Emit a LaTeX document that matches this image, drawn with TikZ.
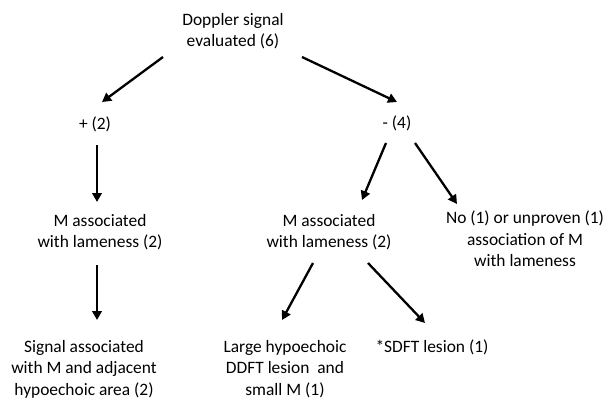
\documentclass[tikz,border=0pt]{standalone}
\usepackage{fontspec}
\setmainfont{Carlito}
\usetikzlibrary{arrows.meta}

\begin{document}
\begin{tikzpicture}[
    x=1pt, y=-1pt,
    lbl/.style={inner sep=0pt, align=center, font=\fontsize{17.4}{21.6}\selectfont},
    arr/.style={line width=2.3pt, -{Triangle[length=9pt,width=9.5pt]}}
  ]
  \useasboundingbox[fill=white] (0,0) rectangle (613,400);

  \node[lbl] (doppler) at (233,31) {Doppler signal\\evaluated (6)};
  \node[lbl] (pos) at (95,124) {+ (2)};
  \node[lbl] (neg) at (397,123) {- (4)};
  \node[lbl] (posM) at (100,232) {M associated\\with lameness (2)};
  \node[lbl] (negM) at (329,232) {M associated\\with lameness (2)};
  \node[lbl] (noM) at (525,239) {No (1) or unproven (1)\\association of M\\with lameness};
  \node[lbl] (signal) at (84,369) {Signal associated\\with M and adjacent\\hypoechoic area (2)};
  \node[lbl] (ddft) at (285,369) {Large hypoechoic\\DDFT lesion\ \ and\\small M (1)};
  \node[lbl] (sdft) at (432,347) {*SDFT lesion (1)};

  \draw[arr] ([shift={(-70,26)}]doppler.center) -- ([shift={(7,-22)}]pos.center);
  \draw[arr] ([shift={(69,26)}]doppler.center) -- ([shift={(0,-21)}]neg.center);
  \draw[arr] ([shift={(2,21)}]pos.center) -- ([shift={(-3,-30)}]posM.center);
  \draw[arr] ([shift={(-11,20)}]neg.center) -- ([shift={(33,-32)}]negM.center);
  \draw[arr] ([shift={(18,20)}]neg.center) -- ([shift={(-68,-35)}]noM.center);
  \draw[arr] ([shift={(-3,33)}]posM.center) -- ([shift={(13,-49)}]signal.center);
  \draw[arr] ([shift={(-16,31)}]negM.center) -- ([shift={(-3,-49)}]ddft.center);
  \draw[arr] ([shift={(39,31)}]negM.center) -- ([shift={(-7,-24)}]sdft.center);
\end{tikzpicture}
\end{document}
